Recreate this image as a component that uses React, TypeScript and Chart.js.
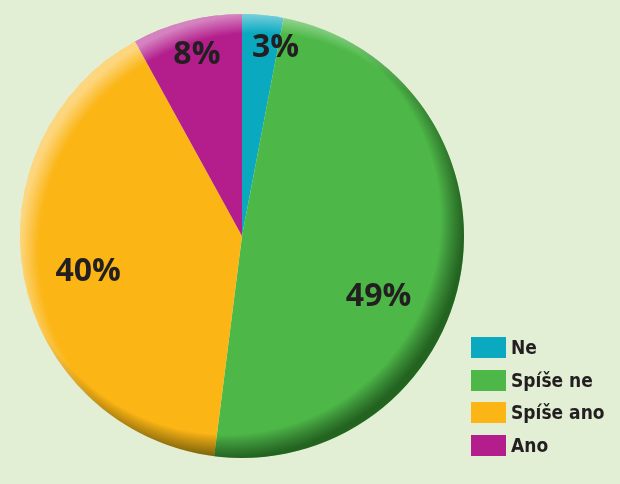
import React, { useEffect, useRef } from "react";
import { Chart, registerables } from "chart.js";

Chart.register(...registerables);

const categories = ["Ne", "Spíše ne", "Spíše ano", "Ano"];
const values = [3, 49, 40, 8];
const valueLabels = ["3%", "49%", "40%", "8%"];
const colors = ["#0aa9c0", "#4db848", "#fbb515", "#b31e8c"];
// label placement: fraction of radius and angle shift (radians)
const labelRadius = [0.87, 0.67, 0.71, 0.85];
const labelAngleShift = [0.08, 0.25, -0.03, 0.01];

const BG = "#e2efd4";

const shadePlugin = {
  id: "shade",
  afterDatasetsDraw(chart: any) {
    const meta = chart.getDatasetMeta(0);
    const arc = meta.data[0];
    if (!arc) return;
    const { x: cx, y: cy, outerRadius: r } = arc.getProps(["x", "y", "outerRadius"], true);
    const ctx = chart.ctx;
    ctx.save();
    ctx.beginPath();
    ctx.arc(cx, cy, r, 0, Math.PI * 2);
    ctx.clip();
    const off = 16;
    const g1 = ctx.createRadialGradient(cx - off, cy - off, 0, cx - off, cy - off, r + off);
    g1.addColorStop(0, "rgba(0,0,0,0)");
    g1.addColorStop(0.9, "rgba(0,0,0,0)");
    g1.addColorStop(1, "rgba(0,30,0,0.55)");
    ctx.fillStyle = g1;
    ctx.fillRect(cx - r - 40, cy - r - 40, 2 * r + 80, 2 * r + 80);
    const g2 = ctx.createRadialGradient(cx + off, cy + off, 0, cx + off, cy + off, r + off);
    g2.addColorStop(0, "rgba(255,255,255,0)");
    g2.addColorStop(0.92, "rgba(255,255,255,0)");
    g2.addColorStop(1, "rgba(255,255,255,0.45)");
    ctx.fillStyle = g2;
    ctx.fillRect(cx - r - 40, cy - r - 40, 2 * r + 80, 2 * r + 80);
    ctx.restore();
  },
};

const labelPlugin = {
  id: "valLabels",
  afterDraw(chart: any) {
    const meta = chart.getDatasetMeta(0);
    const ctx = chart.ctx;
    ctx.save();
    ctx.font = "bold 32px 'Open Sans', 'DejaVu Sans', sans-serif";
    ctx.fillStyle = "#231f20";
    ctx.textAlign = "center";
    ctx.textBaseline = "middle";
    meta.data.forEach((el: any, i: number) => {
      const p = el.getProps(["x", "y", "startAngle", "endAngle", "outerRadius"], true);
      const a = (p.startAngle + p.endAngle) / 2 + labelAngleShift[i];
      const rr = p.outerRadius * labelRadius[i];
      ctx.fillText(valueLabels[i], p.x + Math.cos(a) * rr, p.y + Math.sin(a) * rr + 2);
    });
    ctx.restore();
  },
};

export default function App() {
  const ref = useRef<HTMLCanvasElement>(null);
  useEffect(() => {
    if (!ref.current) return;
    const chart = new Chart(ref.current, {
      type: "pie",
      data: {
        labels: categories,
        datasets: [
          {
            data: values,
            backgroundColor: colors,
            borderWidth: 0,
          },
        ],
      },
      options: {
        responsive: false,
        animation: false,
        layout: { padding: { left: 20, top: 14, right: 156, bottom: 26 } },
        plugins: {
          legend: { display: false },
          tooltip: { enabled: false },
        },
      },
      plugins: [shadePlugin, labelPlugin],
    });
    return () => chart.destroy();
  }, []);

  return (
    <div
      style={{
        position: "fixed",
        left: 0,
        top: 0,
        width: 620,
        height: 484,
        background: BG,
        overflow: "hidden",
      }}
    >
      <canvas ref={ref} width={620} height={484} style={{ position: "absolute", left: 0, top: 0 }} />
      <div style={{ position: "absolute", left: 471, top: 337 }}>
        {categories.map((c, i) => (
          <div
            key={c}
            style={{
              display: "flex",
              alignItems: "center",
              height: 21,
              marginBottom: 11.5,
            }}
          >
            <div style={{ width: 35, height: 21, background: colors[i] }} />
            <span
              style={{
                marginLeft: 5,
                fontFamily: "'DejaVu Sans Condensed', 'Liberation Sans Narrow', sans-serif",
                fontWeight: "bold",
                fontSize: 19,
                color: "#231f20",
                lineHeight: "21px",
                whiteSpace: "nowrap",
              }}
            >
              {c}
            </span>
          </div>
        ))}
      </div>
    </div>
  );
}
